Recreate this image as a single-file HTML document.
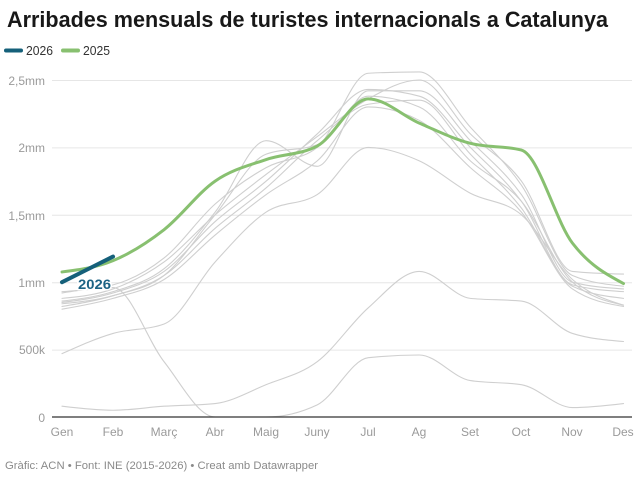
<!DOCTYPE html>
<html>
<head>
<meta charset="utf-8">
<style>
  html, body { margin:0; padding:0; background:#fff; }
  body { width:640px; height:478px; overflow:hidden; }
  svg { display:block; font-family:"Liberation Sans", Arial, sans-serif; }
</style>
</head>
<body>
<svg id="chart" width="640" height="478" viewBox="0 0 640 478" xmlns="http://www.w3.org/2000/svg">
  <text x="7" y="27" font-size="22" font-weight="bold" fill="#181818" textLength="601" lengthAdjust="spacingAndGlyphs">Arribades mensuals de turistes internacionals a Catalunya</text>

  <!-- legend -->
  <line x1="6" y1="50.5" x2="21" y2="50.5" stroke="#15607a" stroke-width="4" stroke-linecap="round"/>
  <text x="26" y="55" font-size="13" fill="#333" textLength="27" lengthAdjust="spacingAndGlyphs">2026</text>
  <line x1="63" y1="50.5" x2="78" y2="50.5" stroke="#88c070" stroke-width="4" stroke-linecap="round"/>
  <text x="83" y="55" font-size="13" fill="#333" textLength="27" lengthAdjust="spacingAndGlyphs">2025</text>

  <!-- grid -->
  <g stroke="#e6e6e6" stroke-width="1">
    <line x1="52" y1="80.5" x2="632" y2="80.5"/>
    <line x1="52" y1="147.9" x2="632" y2="147.9"/>
    <line x1="52" y1="215.3" x2="632" y2="215.3"/>
    <line x1="52" y1="282.7" x2="632" y2="282.7"/>
    <line x1="52" y1="350.1" x2="632" y2="350.1"/>
  </g>
  <g font-size="12" fill="#9a9a9a" text-anchor="end">
    <text x="45" y="85">2,5mm</text>
    <text x="45" y="152">2mm</text>
    <text x="45" y="220">1,5mm</text>
    <text x="45" y="287">1mm</text>
    <text x="45" y="354">500k</text>
    <text x="45" y="422">0</text>
  </g>

  <g id="series" fill="none" stroke-linejoin="round" stroke-linecap="round"></g>

  <line x1="52" y1="417" x2="632" y2="417" stroke="#333" stroke-width="1.3"/>

  <g font-size="12" fill="#9a9a9a" text-anchor="middle">
    <text x="62" y="436">Gen</text>
    <text x="113" y="436">Feb</text>
    <text x="164" y="436">Març</text>
    <text x="215" y="436">Abr</text>
    <text x="266" y="436">Maig</text>
    <text x="317" y="436">Juny</text>
    <text x="368" y="436">Jul</text>
    <text x="419" y="436">Ag</text>
    <text x="470" y="436">Set</text>
    <text x="521" y="436">Oct</text>
    <text x="572" y="436">Nov</text>
    <text x="623" y="436">Des</text>
  </g>

  <text x="5" y="469" font-size="11" fill="#8a8a8a" textLength="313" lengthAdjust="spacingAndGlyphs">Gràfic: ACN • Font: INE (2015-2026) • Creat amb Datawrapper</text>
</svg>
<script>
(function(){
  var x0 = 62, step = (623.5 - 62) / 11;
  function Y(v){ return 417 - v * 134.8; }
  function path(vals){
    var pts = vals.map(function(v,i){ return [x0 + i*step, Y(v)]; });
    var n = pts.length;
    if (n < 2) return "";
    var t = new Array(n);
    function sign(a){ return a < 0 ? -1 : 1; }
    for (var i=1;i<n-1;i++){
      var h0 = pts[i][0]-pts[i-1][0], h1 = pts[i+1][0]-pts[i][0];
      var s0 = (pts[i][1]-pts[i-1][1])/h0, s1 = (pts[i+1][1]-pts[i][1])/h1;
      var p = (s0*h1 + s1*h0)/(h0+h1);
      t[i] = (sign(s0)+sign(s1)) * Math.min(Math.abs(s0), Math.abs(s1), 0.5*Math.abs(p)) || 0;
    }
    if (n === 2){
      var s = (pts[1][1]-pts[0][1])/(pts[1][0]-pts[0][0]);
      t[0] = s; t[1] = s;
    } else {
      var h = pts[1][0]-pts[0][0];
      t[0] = (3*(pts[1][1]-pts[0][1])/h - t[1])/2;
      h = pts[n-1][0]-pts[n-2][0];
      t[n-1] = (3*(pts[n-1][1]-pts[n-2][1])/h - t[n-2])/2;
    }
    var d = "M" + pts[0][0].toFixed(2) + "," + pts[0][1].toFixed(2);
    for (var j=0;j<n-1;j++){
      var dx = (pts[j+1][0]-pts[j][0])/3;
      d += "C" + (pts[j][0]+dx).toFixed(2) + "," + (pts[j][1]+dx*t[j]).toFixed(2) + " "
              + (pts[j+1][0]-dx).toFixed(2) + "," + (pts[j+1][1]-dx*t[j+1]).toFixed(2) + " "
              + pts[j+1][0].toFixed(2) + "," + pts[j+1][1].toFixed(2);
    }
    return d;
  }
  var grays = [
    [0.93, 0.98, 1.18, 1.58, 1.85, 2.00, 2.55, 2.56, 2.15, 1.72, 1.05, 0.97],
    [0.88, 0.95, 1.15, 1.50, 1.80, 2.08, 2.36, 2.50, 2.10, 1.75, 1.08, 1.06],
    [0.86, 0.93, 1.10, 1.52, 2.05, 1.86, 2.42, 2.42, 2.05, 1.65, 1.00, 0.95],
    [0.85, 0.92, 1.08, 1.45, 1.75, 2.10, 2.43, 2.38, 2.00, 1.60, 0.98, 0.93],
    [0.84, 0.90, 1.05, 1.40, 1.70, 2.05, 2.32, 2.35, 1.95, 1.55, 0.97, 0.88],
    [0.80, 0.88, 1.02, 1.35, 1.65, 1.90, 2.30, 2.20, 1.85, 1.52, 0.95, 0.82],
    [0.82, 0.90, 1.05, 1.50, 1.95, 2.02, 2.38, 2.30, 1.90, 1.60, 1.00, 0.83],
    [0.47, 0.62, 0.69, 1.15, 1.52, 1.65, 2.00, 1.90, 1.66, 1.50, 1.02, 0.83],
    [0.92, 0.96, 0.41, 0.00, 0.00, 0.09, 0.44, 0.46, 0.27, 0.24, 0.07, 0.10],
    [0.08, 0.05, 0.08, 0.10, 0.24, 0.41, 0.81, 1.08, 0.88, 0.86, 0.62, 0.56]
  ];
  var g = document.getElementById("series");
  var NS = "http://www.w3.org/2000/svg";
  function add(d, color, w){
    var p = document.createElementNS(NS, "path");
    p.setAttribute("d", d);
    p.setAttribute("stroke", color);
    p.setAttribute("stroke-width", w);
    p.setAttribute("fill", "none");
    g.appendChild(p);
    return p;
  }
  grays.forEach(function(v){ add(path(v), "#cfcfcf", 1.1); });
  add(path([1.076, 1.16, 1.39, 1.75, 1.91, 2.01, 2.36, 2.18, 2.03, 1.98, 1.29, 0.99]), "#88c070", 3);
  add(path([1.0, 1.19]), "#15607a", 4);
  var lbl = document.createElementNS(NS, "text");
  lbl.setAttribute("x", "78");
  lbl.setAttribute("y", "289");
  lbl.setAttribute("font-size", "14");
  lbl.setAttribute("font-weight", "bold");
  lbl.setAttribute("fill", "#1d6384");
  lbl.setAttribute("stroke", "#fff");
  lbl.setAttribute("stroke-width", "3");
  lbl.setAttribute("paint-order", "stroke");
  lbl.setAttribute("textLength", "33");
  lbl.setAttribute("lengthAdjust", "spacingAndGlyphs");
  lbl.textContent = "2026";
  g.appendChild(lbl);
})();
</script>
</body>
</html>
